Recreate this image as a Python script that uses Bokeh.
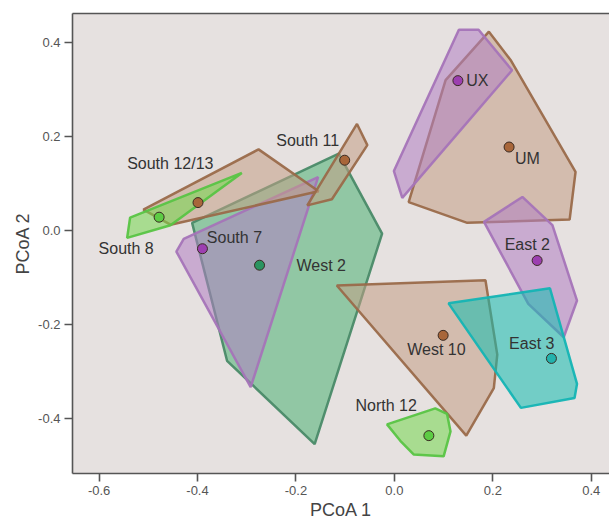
from bokeh.plotting import figure
from bokeh.models import ColumnDataSource, LinearAxis, FixedTicker, Range1d
from bokeh.core.properties import value
from bokeh.embed import file_html
from bokeh.resources import INLINE

# ---------------- data ----------------
groups = ["West 2", "South 7", "South 12/13", "South 8", "South 11",
          "UM", "UX", "East 2", "West 10", "East 3", "North 12"]

family = ["green", "purple", "brown", "lightgreen", "brown",
          "brown", "purple", "purple", "brown", "teal", "lightgreen"]

hull_x = [
    [-0.113, -0.025, -0.162, -0.340, -0.411],
    [-0.155, -0.292, -0.443, -0.428],
    [-0.510, -0.276, -0.154, -0.455],
    [-0.310, -0.537, -0.543, -0.455],
    [-0.076, -0.055, -0.127, -0.177],
    [0.192, 0.236, 0.368, 0.356, 0.148, 0.029, 0.104],
    [0.131, 0.171, 0.239, 0.016, -0.001],
    [0.260, 0.321, 0.371, 0.344, 0.272, 0.182],
    [-0.117, 0.185, 0.209, 0.202, 0.146],
    [0.110, 0.316, 0.371, 0.366, 0.257],
    [-0.015, 0.083, 0.107, 0.114, 0.100, 0.039, 0.012],
]
hull_y = [
    [0.163, -0.007, -0.454, -0.277, 0.016],
    [0.113, -0.333, -0.045, -0.018],
    [0.044, 0.172, 0.083, 0.012],
    [0.122, 0.027, -0.016, 0.011],
    [0.226, 0.181, 0.066, 0.053],
    [0.422, 0.362, 0.124, 0.023, 0.016, 0.060, 0.319],
    [0.426, 0.426, 0.340, 0.069, 0.126],
    [0.071, 0.011, -0.149, -0.227, -0.156, 0.018],
    [-0.117, -0.106, -0.264, -0.335, -0.436],
    [-0.155, -0.123, -0.326, -0.356, -0.377],
    [-0.412, -0.378, -0.390, -0.427, -0.480, -0.476, -0.447],
]

cent_x = [-0.274, -0.390, -0.399, -0.478, -0.101, 0.233, 0.129, 0.290, 0.099, 0.319, 0.070]
cent_y = [-0.074, -0.039, 0.059, 0.028, 0.149, 0.177, 0.318, -0.064, -0.223, -0.272, -0.436]

label_x = [-0.199, -0.381, -0.543, -0.601, -0.240, 0.245, 0.146, 0.224, 0.026, 0.233, -0.079]
label_y = [-0.074, -0.016, 0.142, -0.039, 0.191, 0.152, 0.318, -0.030, -0.252, -0.241, -0.372]

x_ticks = [-0.6, -0.4, -0.2, 0.0, 0.2, 0.4]
x_tick_labels = ["-0.6", "-0.4", "-0.2", "0.0", "0.2", "0.4"]
y_ticks = [-0.4, -0.2, 0.0, 0.2, 0.4]
y_tick_labels = ["-0.4", "-0.2", "0.0", "0.2", "0.4"]

# ---------------- styles ----------------
fill_col = {"brown": "#c29e85", "purple": "#b080c3", "green": "#4ab373",
            "teal": "#12bdb0", "lightgreen": "#75d84f"}
line_col = {"brown": "#9a6a4a", "purple": "#a574b8", "green": "#4a8a68",
            "teal": "#14b4b4", "lightgreen": "#58c444"}
point_col = {"brown": "#a8663a", "purple": "#9c3fb0", "green": "#2a9460",
             "teal": "#22b2ac", "lightgreen": "#5ccc44"}

src = ColumnDataSource(dict(
    xs=hull_x, ys=hull_y,
    fill=[fill_col[f] for f in family],
    line=[line_col[f] for f in family],
))
pts = ColumnDataSource(dict(
    x=cent_x, y=cent_y,
    c=[point_col[f] for f in family],
))
labs = ColumnDataSource(dict(x=label_x, y=label_y, t=groups))

p = figure(width=609, height=523, output_backend="svg", toolbar_location=None,
           x_range=Range1d(-0.654, 0.437), y_range=Range1d(-0.5164, 0.4606),
           min_border_left=72, min_border_right=0, min_border_top=13,
           min_border_bottom=50)

p.background_fill_color = "#e6e1e0"
p.border_fill_color = "white"
p.outline_line_color = None
p.grid.visible = False

p.patches("xs", "ys", source=src, fill_color="fill", fill_alpha=0.55,
          line_color="line", line_width=2.5, line_alpha=0.95)
p.scatter("x", "y", source=pts, size=10, fill_color="c",
          line_color="#3a2a22", line_width=1)
p.text("x", "y", text="t", source=labs, text_font=value("Liberation Sans"),
       text_font_size="16px", text_color="#333333",
       text_align="left", text_baseline="middle")

for ax in (p.xaxis[0], p.yaxis[0]):
    ax.axis_line_color = "#555555"
    ax.axis_line_width = 1.6
    ax.major_tick_line_color = "#555555"
    ax.major_tick_line_width = 1.6
    ax.major_tick_out = 8
    ax.major_tick_in = 0
    ax.minor_tick_line_color = None
    ax.major_label_text_font = "Liberation Sans"
    ax.major_label_text_font_size = "13px"
    ax.major_label_text_color = "#555555"
    ax.major_label_standoff = 4
    ax.axis_label_text_font = "Liberation Sans"
    ax.axis_label_text_font_size = "18px"
    ax.axis_label_text_font_style = "normal"
    ax.axis_label_text_color = "#444444"
    ax.axis_label_standoff = 2

p.xaxis[0].ticker = FixedTicker(ticks=x_ticks)
p.xaxis[0].major_label_overrides = dict(zip(x_ticks, x_tick_labels))
p.xaxis[0].axis_label = "PCoA 1"
p.yaxis[0].ticker = FixedTicker(ticks=y_ticks)
p.yaxis[0].major_label_overrides = dict(zip(y_ticks, y_tick_labels))
p.yaxis[0].axis_label = "PCoA 2"

top = LinearAxis(ticker=FixedTicker(ticks=[]), axis_line_color="#555555",
                 axis_line_width=1.6, major_label_text_font_size="0px",
                 major_tick_line_color=None, minor_tick_line_color=None)
p.add_layout(top, "above")

open("out.html", "w").write(file_html(p, INLINE))
